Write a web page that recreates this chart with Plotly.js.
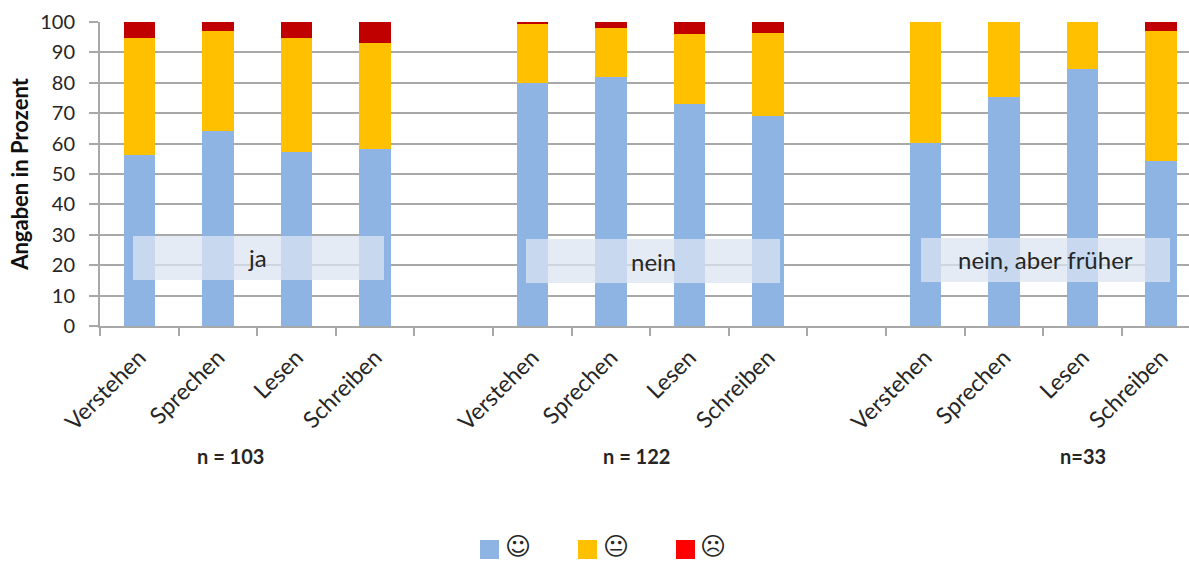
<!DOCTYPE html>
<html>
<head>
<meta charset="utf-8">
<script src="https://cdn.plot.ly/plotly-3.0.1.min.js"></script>
<style>html,body{margin:0;padding:0;background:#fff;overflow:hidden}#chart{width:1189px;height:561px}</style>
</head>
<body>
<div id="chart"></div>
<script>
// Self-assessed language skills, grouped by answer, in percent
const skills = ["Verstehen", "Sprechen", "Lesen", "Schreiben"];
const positions = [0, 1, 2, 3, 5, 6, 7, 8, 10, 11, 12, 13];
const tickLabels = [...skills, ...skills, ...skills];
const gut = [56.2, 64.1, 57.1, 58.3, 80, 82, 73, 69, 60.2, 75.3, 84.5, 54.4];
const mittel = [38.6, 32.8, 37.7, 34.8, 19.3, 16, 23, 27.5, 39.8, 24.7, 15.5, 42.5];
const schlecht = [5.2, 3.1, 5.2, 6.9, 0.7, 2, 4, 3.5, 0, 0, 0, 3.1];

const groupLabels = ["ja", "nein", "nein, aber früher"];
const sampleLabels = ["n = 103", "n = 122", "n=33"];
const legendFaces = ["☺", "😐", "☹"];

const W = 1189, H = 561;
const M = {l: 100, r: 0, t: 22, b: 235};
const PW = W - M.l - M.r, PH = H - M.t - M.b;
const FONT = "Lato, Carlito, 'Open Sans', sans-serif";
const INK = "#262626", GRID = "#a8a8a8";

// Page pixels to paper coordinates, for overlays placed outside the data scales
const px = x => (x - M.l) / PW;
const py = y => 1 - (y - M.t) / PH;

const bar = (y, color, name) => ({
  type: "bar", x: positions, y, name, width: 0.4,
  marker: {color, line: {width: 0}}, showlegend: false, hoverinfo: "y+name"
});

const boxes = [[133, 384, 236, 280], [526, 780, 239, 283], [921, 1170, 238, 282]];
const boxText = [[257, 257], [653, 261], [1045, 259]];
const sampleAt = [[230, 456], [636, 456], [1083, 456]];
const swatches = [[480, "#8eb4e3"], [578, "#ffc000"], [676, "#ff0000"]];
const faceAt = [518, 616, 713];

const shapes = [
  ...boxes.map(b => ({
    type: "rect", xref: "paper", yref: "paper", layer: "above",
    x0: px(b[0]), x1: px(b[1]), y0: py(b[3]), y1: py(b[2]),
    fillcolor: "rgba(219,228,242,0.75)", line: {width: 0}
  })),
  ...swatches.map(s => ({
    type: "rect", xref: "paper", yref: "paper", layer: "above",
    x0: px(s[0]), x1: px(s[0] + 19), y0: py(559), y1: py(540),
    fillcolor: s[1], line: {width: 0}
  }))
];

const note = (text, x, y, size, extra) => Object.assign({
  text, xref: "paper", yref: "paper", x: px(x), y: py(y),
  xanchor: "center", yanchor: "middle", showarrow: false,
  font: {family: FONT, size, color: INK}
}, extra || {});

const annotations = [
  ...groupLabels.map((t, i) => note(t, boxText[i][0], boxText[i][1], 24)),
  ...sampleLabels.map((t, i) => note("<b>" + t + "</b>", sampleAt[i][0], sampleAt[i][1], 20)),
  ...legendFaces.map((t, i) => note(t, faceAt[i], 546, 25,
    {borderpad: 0, font: {family: "'DejaVu Sans', sans-serif", size: 25, color: INK}}))
];

const layout = {
  width: W, height: H, barmode: "stack", showlegend: false,
  paper_bgcolor: "#fff", plot_bgcolor: "#fff",
  margin: M,
  font: {family: FONT, color: INK},
  xaxis: {
    type: "linear", range: [-0.5, 13.355], fixedrange: true, showgrid: false, zeroline: false,
    showline: true, linecolor: GRID, linewidth: 2,
    tickmode: "array", tickvals: positions, ticktext: tickLabels, tickangle: -45,
    ticks: "outside", ticklen: 7, tickcolor: "rgba(0,0,0,0)",
    tickfont: {family: FONT, size: 23, color: INK},
    minor: {tickmode: "linear", tick0: -0.5, dtick: 1, ticks: "outside", ticklen: 8,
            tickcolor: GRID, tickwidth: 2, showgrid: false}
  },
  yaxis: {
    range: [0, 100], fixedrange: true, tick0: 0, dtick: 10, zeroline: false,
    showgrid: true, gridcolor: GRID, gridwidth: 2,
    showline: true, linecolor: GRID, linewidth: 2,
    ticks: "outside", ticklen: 9, tickcolor: GRID, tickwidth: 2, ticklabelstandoff: 10,
    tickfont: {family: FONT, size: 20, color: INK},
    title: {text: "<b>Angaben in Prozent</b>", standoff: 5, font: {family: FONT, size: 22, color: "#111"}}
  },
  shapes, annotations
};

Plotly.newPlot("chart", [
  bar(gut, "#8eb4e3", "gut"),
  bar(mittel, "#ffc000", "mittel"),
  bar(schlecht, "#c00000", "schlecht")
], layout, {displayModeBar: false, staticPlot: true});
</script>
</body>
</html>
